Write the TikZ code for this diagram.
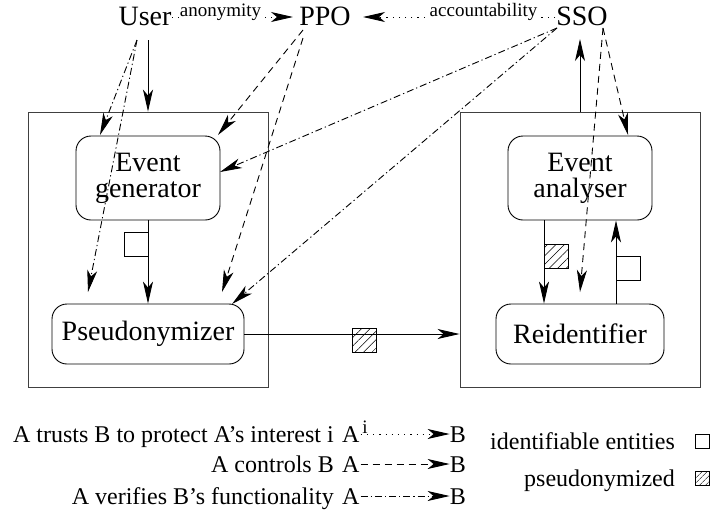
\documentclass[tikz,border=0pt]{standalone}
\usepackage{fontspec}
\setmainfont{Liberation Serif}
\usetikzlibrary{arrows.meta,patterns.meta,calc}
\begin{document}
\begin{tikzpicture}[x=1pt,y=-1pt,
  tip/.style={-{Stealth[length=22pt,width=10pt,inset=6pt]}},
  ln/.style={line width=0.9pt},
  solidarr/.style={ln,tip},
  ctrl/.style={ln,tip,dash pattern=on 7pt off 5pt},
  verif/.style={ln,tip,dash pattern=on 7pt off 3pt on 1.2pt off 3pt},
  trust/.style={ln,tip,dash pattern=on 1.2pt off 5pt},
  big/.style={font=\fontsize{28}{26}\selectfont},
  comp/.style={draw,ln,rounded corners=15pt,align=center,big,inner sep=0pt},
  outer/.style={draw,black!75,line width=0.9pt,inner sep=0pt},
  sq/.style={draw,ln,minimum size=24pt,inner sep=0pt,fill=white},
  hsq/.style={draw,ln,minimum size=24pt,inner sep=0pt,pattern={Lines[angle=45,distance=6pt,line width=0.5pt]}},
  lbl/.style={font=\fontsize{19}{20}\selectfont,inner sep=0.5pt},
  leg/.style={font=\fontsize{24}{26}\selectfont,inner sep=0pt},
]
\useasboundingbox (0,0) rectangle (714,512);

% outer boxes
\node[outer,minimum width=240pt,minimum height=275pt] (lbox) at (148,249.5) {};
\node[outer,minimum width=240pt,minimum height=275pt] (rbox) at (580,249.5) {};

% components
\node[comp,minimum width=144pt,minimum height=84pt] (eg) at (148,178) {Event\\generator};
\node[comp,minimum width=192pt,minimum height=60pt] (ps) at (148,334) {Pseudonymizer};
\node[comp,minimum width=144pt,minimum height=84pt] (ea) at (580,178) {Event\\analyser};
\node[comp,minimum width=168pt,minimum height=60pt] (ri) at (580,334) {Reidentifier};

% actors
\node[big,anchor=base,inner sep=0pt] (user) at (145,25) {User};
\node[big,anchor=base,inner sep=0pt] (ppo) at (325,25) {PPO};
\node[big,anchor=base,inner sep=0pt] (sso) at (582,25) {SSO};

% endpoints
\coordinate (u0) at (148,40);
\coordinate (u1) at (137,40);
\coordinate (p1) at (303,30);
\coordinate (p2) at (303,38);
\coordinate (s1) at (557,28);
\coordinate (s2) at (603,28);
\coordinate (s0) at (580,39);
\coordinate (egTL) at (100,135);
\coordinate (egTR) at (218,135);
\coordinate (egR) at (220,172);
\coordinate (psL) at (88,292);
\coordinate (psR) at (222,292);
\coordinate (psT) at (232,304);
\coordinate (eaT) at (628,135);
\coordinate (riT) at (580,292);

% solid flows
\draw[solidarr] (u0) -- (u0 |- lbox.north);
\draw[solidarr] (eg.south) -- (ps.north);
\draw[solidarr] (ps.east) -- (ps.east -| rbox.west);
\draw[solidarr] ($(ea.south)+(-36,0)$) -- ($(ri.north)+(-36,0)$);
\draw[solidarr] ($(ri.north)+(36,0)$) -- ($(ea.south)+(36,0)$);
\draw[solidarr] (s0 |- rbox.north) -- (s0);

% trust
\draw[trust] (172,17) coordinate (ta) -- (293,17) coordinate (tb);
\node[lbl,anchor=base,fill=white] (anon) at (220.5,16) {anonymity};
\draw[trust] (555,17) coordinate (tc) -- (363,17) coordinate (td);
\node[lbl,anchor=base,fill=white] (acc) at (483.5,16) {accountability};

% user verifies
\draw[verif] (u1) -- (egTL);
\draw[verif] (u1) -- (psL);
% PPO controls
\draw[ctrl] (p1) -- (egTR);
\draw[ctrl] (p2) -- (psR);
% SSO verifies
\draw[verif] (s1) -- (egR);
\draw[verif] (s1) -- (psT);
% SSO controls
\draw[ctrl] (s2) -- (eaT);
\draw[ctrl] (s2) -- (riT);

% data squares
\node[sq] (q1) at (136,244) {};
\node[hsq] (q2) at (364,340) {};
\node[hsq] (q3) at (556,256) {};
\node[sq] (q4) at (628,268) {};

% legend left
\node[leg,anchor=base east] (l1) at (334,442) {A trusts B to protect A’s interest i};
\node[leg,anchor=base east] (l2) at (334,472) {A controls B};
\node[leg,anchor=base east] (l3) at (334,504) {A verifies B’s functionality};
\node[leg,anchor=base west] (a1) at (342,442) {A};
\node[leg,anchor=base east] (b1) at (466,442) {B};
\node[leg,anchor=base west] (a2) at (342,472) {A};
\node[leg,anchor=base east] (b2) at (466,472) {B};
\node[leg,anchor=base west] (a3) at (342,504) {A};
\node[leg,anchor=base east] (b3) at (466,504) {B};
\draw[trust] ($(a1.base east)+(1,-8)$) -- ($(b1.base west)+(0,-8)$);
\node[lbl,anchor=base] (i1) at (365,433) {i};
\draw[ctrl] ($(a2.base east)+(1,-8)$) -- ($(b2.base west)+(0,-8)$);
\draw[verif] ($(a3.base east)+(1,-8)$) -- ($(b3.base west)+(0,-8)$);

% legend right
\node[leg,anchor=base east] (r1) at (675,449) {identifiable entities};
\node[sq,minimum size=14pt] (rs1) at (702,441) {};
\node[leg,anchor=base east] (r2) at (675,486) {pseudonymized};
\node[draw,ln,minimum size=14pt,inner sep=0pt,pattern={Lines[angle=45,distance=4pt,line width=0.5pt]}] (rs2) at (702,478) {};
\end{tikzpicture}
\end{document}
